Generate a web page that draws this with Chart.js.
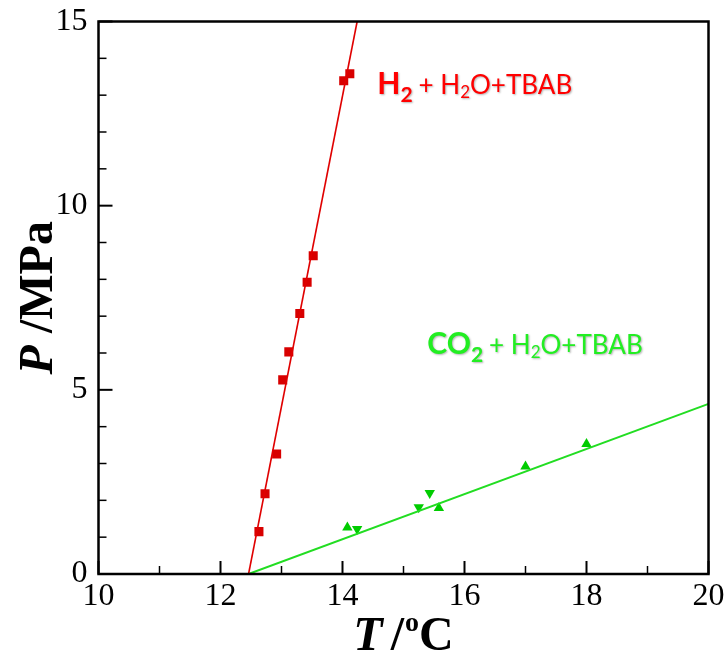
<!DOCTYPE html>
<html>
<head>
<meta charset="utf-8">
<title>P-T hydrate equilibrium</title>
<script src="https://cdn.jsdelivr.net/npm/chart.js@4.4.1/dist/chart.umd.min.js"></script>
<style>
  html, body { margin: 0; padding: 0; background: #fff; }
  #wrap { width: 725px; height: 656px; position: relative; }
</style>
</head>
<body>
<div id="wrap"><canvas id="chart" width="725" height="656"></canvas></div>
<script>
// H2 + H2O + TBAB measured points (T in degC, P in MPa)
var h2T = [12.63, 12.73, 12.92, 13.02, 13.12, 13.30, 13.42, 13.52, 14.02, 14.12];
var h2P = [1.15, 2.18, 3.26, 5.27, 6.03, 7.07, 7.92, 8.64, 13.39, 13.58];
// H2 fitted line (end points)
var h2FitT = [12.46, 14.24];
var h2FitP = [0, 15];

// CO2 + H2O + TBAB, two runs (up / down triangles)
var co2UpT = [14.08, 15.58, 17.0, 18.0];
var co2UpP = [1.26, 1.79, 2.92, 3.53];
var co2DownT = [14.24, 15.25, 15.43];
var co2DownP = [1.22, 1.81, 2.20];
// CO2 fitted line (end points)
var co2FitT = [12.46, 20];
var co2FitP = [0, 4.62];

// axis ticks
var xTicks = [10, 12, 14, 16, 18, 20];
var xMinor = [11, 13, 15, 17, 19];
var yTicks = [0, 5, 10, 15];
var yMinor = [1, 2, 3, 4, 6, 7, 8, 9, 11, 12, 13, 14];

var SERIF = "'Liberation Serif', 'Times New Roman', serif";
var SANS = "Lato, 'Open Sans', sans-serif";
var RED = '#d80000', GREEN = '#00cc00';

function pts(xs, ys) {
  return xs.map(function(x, i) { return { x: x, y: ys[i] }; });
}

// draw a row of text runs one after another, returns end x
function drawRuns(ctx, runs, x, y) {
  runs.forEach(function(r) {
    ctx.font = r.font;
    ctx.fillText(r.text, x, y + (r.dy || 0));
    x += ctx.measureText(r.text).width + (r.gap || 0);
  });
  return x;
}
function runsWidth(ctx, runs) {
  var w = 0;
  runs.forEach(function(r) { ctx.font = r.font; w += ctx.measureText(r.text).width + (r.gap || 0); });
  return w;
}

// "X2 + H2O+TBAB" label runs
function systemLabel(gas) {
  return [
    { text: gas, font: 'bold 30px ' + SANS },
    { text: '2', font: 'bold 21px ' + SANS, dy: 8, gap: 6 },
    { text: '+ H', font: '26px ' + SANS },
    { text: '2', font: '17px ' + SANS, dy: 4 },
    { text: 'O+TBAB', font: '26px ' + SANS }
  ];
}

// frame, inward ticks, axis titles and curve labels
var decor = {
  id: 'decor',
  afterDatasetsDraw: function(chart) {
    var ctx = chart.ctx, a = chart.chartArea;
    var xs = chart.scales.x, ys = chart.scales.y;
    ctx.save();
    ctx.strokeStyle = '#000';
    ctx.lineCap = 'butt';

    function tickX(v, len, w) {
      var px = xs.getPixelForValue(v);
      ctx.lineWidth = w;
      ctx.beginPath(); ctx.moveTo(px, a.bottom); ctx.lineTo(px, a.bottom - len); ctx.stroke();
    }
    function tickY(v, len, w) {
      var py = ys.getPixelForValue(v);
      ctx.lineWidth = w;
      ctx.beginPath(); ctx.moveTo(a.left, py); ctx.lineTo(a.left + len, py); ctx.stroke();
    }
    xTicks.forEach(function(v) { tickX(v, 13, 2); });
    xMinor.forEach(function(v) { tickX(v, 8, 1.5); });
    yTicks.forEach(function(v) { tickY(v, 14, 2); });
    yMinor.forEach(function(v) { tickY(v, 8, 1.5); });

    ctx.lineWidth = 2.5;
    ctx.strokeRect(a.left, a.top, a.right - a.left, a.bottom - a.top);

    // axis titles
    ctx.fillStyle = '#000';
    ctx.textBaseline = 'alphabetic';
    ctx.textAlign = 'left';
    var xt = [
      { text: 'T', font: 'italic bold 48px ' + SERIF, gap: 8 },
      { text: '/', font: 'bold 48px ' + SERIF, gap: 1 },
      { text: 'o', font: 'bold 28px ' + SERIF, dy: -19 },
      { text: 'C', font: 'bold 48px ' + SERIF }
    ];
    var cx = (a.left + a.right) / 2;
    drawRuns(ctx, xt, cx - runsWidth(ctx, xt) / 2, 650);

    var yt = [
      { text: 'P', font: 'italic bold 48px ' + SERIF },
      { text: ' /MPa', font: 'bold 48px ' + SERIF }
    ];
    ctx.save();
    ctx.translate(52, (a.top + a.bottom) / 2);
    ctx.rotate(-Math.PI / 2);
    drawRuns(ctx, yt, -runsWidth(ctx, yt) / 2, 0);
    ctx.restore();

    // curve labels with a soft drop shadow
    ctx.shadowColor = 'rgba(0,0,0,0.3)';
    ctx.shadowBlur = 2;
    ctx.shadowOffsetX = 1;
    ctx.shadowOffsetY = 1;

    ctx.fillStyle = '#ff0000';
    drawRuns(ctx, systemLabel('H'), xs.getPixelForValue(14.57), ys.getPixelForValue(13.03));

    ctx.fillStyle = '#22ee22';
    drawRuns(ctx, systemLabel('CO'), xs.getPixelForValue(15.39), ys.getPixelForValue(5.97));

    ctx.restore();
  }
};

new Chart(document.getElementById('chart'), {
  type: 'scatter',
  data: {
    datasets: [
      { data: pts(h2FitT, h2FitP), showLine: true, borderColor: '#e00000', borderWidth: 1.6, pointRadius: 0 },
      { data: pts(co2FitT, co2FitP), showLine: true, borderColor: '#22dd22', borderWidth: 2, pointRadius: 0 },
      { data: pts(h2T, h2P), pointStyle: 'rect', pointRadius: 6.4, backgroundColor: RED, borderColor: RED, borderWidth: 0 },
      { data: pts(co2UpT, co2UpP), pointStyle: 'triangle', pointRadius: 6, backgroundColor: GREEN, borderColor: GREEN, borderWidth: 0 },
      { data: pts(co2DownT, co2DownP), pointStyle: 'triangle', pointRotation: 180, pointRadius: 6, backgroundColor: GREEN, borderColor: GREEN, borderWidth: 0 }
    ]
  },
  options: {
    responsive: false,
    animation: false,
    layout: { padding: { top: 21.5, right: 16.5, left: 0, bottom: 0 } },
    plugins: { legend: { display: false }, tooltip: { enabled: false } },
    scales: {
      x: {
        type: 'linear', min: 10, max: 20,
        afterBuildTicks: function(s) { s.ticks = xTicks.map(function(v) { return { value: v }; }); },
        afterFit: function(s) { s.height = 82; s.paddingLeft = 0; s.paddingRight = 0; },
        grid: { display: false, drawTicks: false },
        border: { display: false },
        ticks: { color: '#000', font: { family: SERIF, size: 32 }, padding: 3, maxRotation: 0, autoSkip: false }
      },
      y: {
        type: 'linear', min: 0, max: 15,
        afterBuildTicks: function(s) { s.ticks = yTicks.map(function(v) { return { value: v }; }); },
        afterFit: function(s) { s.width = 98.5; s.paddingTop = 0; s.paddingBottom = 0; },
        grid: { display: false, drawTicks: false },
        border: { display: false },
        ticks: { color: '#000', font: { family: SERIF, size: 32 }, padding: 11, autoSkip: false }
      }
    }
  },
  plugins: [decor]
});
</script>
</body>
</html>
